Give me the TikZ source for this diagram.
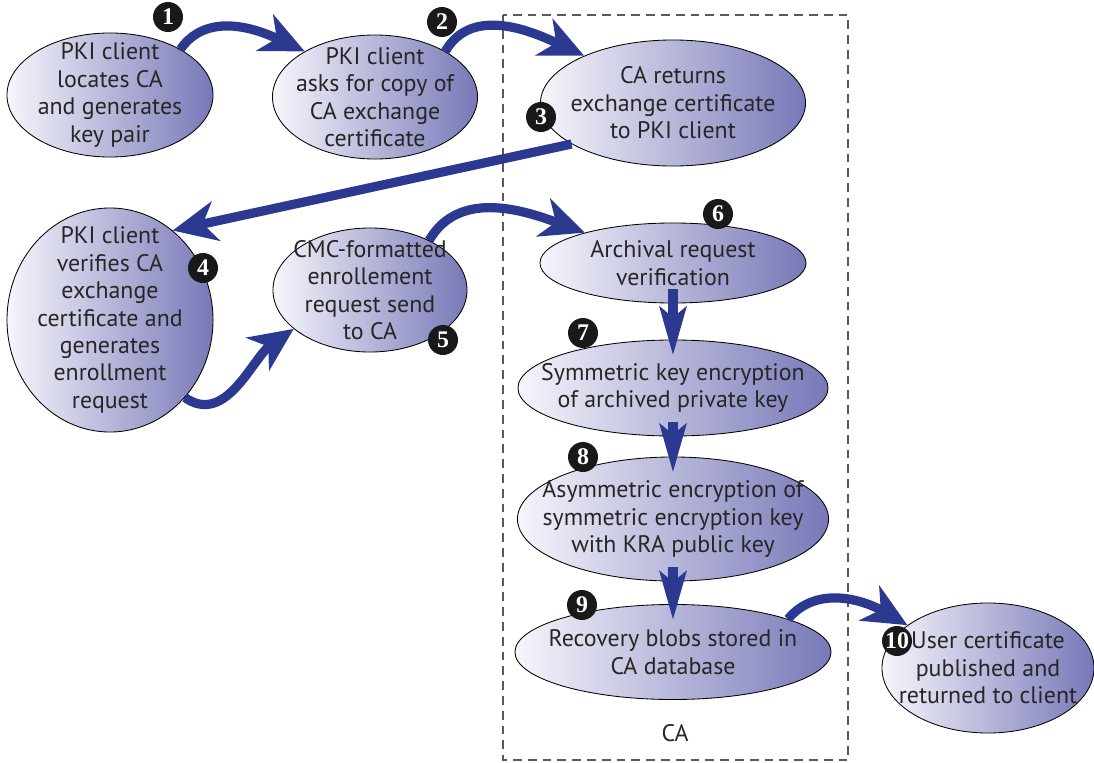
\documentclass[tikz,border=0pt]{standalone}
\usepackage{fontspec}
\setmainfont{PT Sans}
\newfontfamily\numfont{Liberation Serif}
\usetikzlibrary{shapes,arrows.meta,positioning,calc}
\definecolor{flowblue}{RGB}{43,57,144}
\definecolor{stageleft}{RGB}{246,246,252}
\definecolor{stageright}{RGB}{120,120,184}
\tikzstyle{stage} = [ellipse, draw=black, line width=0.6pt, left color=stageleft, right color=stageright, align=center, inner sep=-1cm, text=black!85, font=\fontsize{17}{19.5}\selectfont]
\tikzstyle{badge} = [circle, fill=black!90, text=white, inner sep=0pt, minimum size=0.75cm, font=\numfont\bfseries\fontsize{17}{17}\selectfont]
\tikzstyle{flow} = [flowblue, line width=0.23cm, -{Stealth[length=1.1cm, width=1cm, inset=0.33cm]}]
\tikzstyle{down} = [flowblue, line width=0.25cm, -{Stealth[length=1.2cm, width=0.65cm, inset=0.25cm]}, shorten <=-0.35cm, shorten >=-0.4cm]
\tikzstyle{cabox} = [draw=black!65, line width=0.05cm, dash pattern=on 0.22cm off 0.15cm]

\begin{document}
\begin{tikzpicture}[x=0.025cm, y=-0.025cm]
    \useasboundingbox (0,0) rectangle (1094,763);
    \draw[cabox] (503,15) rectangle (848,760);
    \node[text=black!85, font=\fontsize{17}{19.5}\selectfont] (calabel) at (675,733) {CA};

    \node[stage, minimum width=5.15cm, minimum height=3.1cm] (locate) at (110,95) {PKI client\\locates CA\\and generates\\key pair};
    \node[stage, minimum width=5.125cm, minimum height=3.1cm] (askcopy) at (375,97) {PKI client\\asks for copy of\\CA exchange\\certificate};
    \node[stage, minimum width=6.625cm, minimum height=3.15cm] (returns) at (673,103) {CA returns\\exchange certificate\\to PKI client};
    \node[stage, minimum width=5.15cm, minimum height=5.6cm] (verify) at (110,320) {PKI client\\verifies CA\\exchange\\certificate and\\generates\\enrollment\\request};
    \node[stage, minimum width=4.85cm, minimum height=3.1cm] (cmc) at (370,290) {CMC-formatted\\enrollement\\request send\\to CA};
    \node[stage, minimum width=6.65cm, minimum height=2cm] (archival) at (673,263) {Archival request\\verification};
    \node[stage, minimum width=7.75cm, minimum height=2.4cm] (symkey) at (673,388) {Symmetric key encryption\\of archived private key};
    \node[stage, minimum width=7.775cm, minimum height=3.1cm] (asymkey) at (673,519) {Asymmetric encryption of\\symmetric encryption key\\with KRA public key};
    \node[stage, minimum width=7.9cm, minimum height=2.375cm] (blobs) at (673,652) {Recovery blobs stored in\\CA database};
    \node[stage, minimum width=5.3cm, minimum height=3.25cm] (publish) at (988,668) {User certificate\\published and\\returned to client};

    \draw[flow] (locate.33) to[out=55, in=155] (askcopy.147);
    \draw[flow] (askcopy.33) to[out=60, in=155] (returns.152);
    \draw[flow] (returns.202) -- (verify.55);
    \draw[flow] (verify.314) to[out=-35, in=215] (cmc.207);
    \draw[flow] (cmc.40) to[out=60, in=160] (archival.161);
    \draw[down] (archival.south) -- (symkey.north);
    \draw[down] (symkey.south) -- (asymkey.north);
    \draw[down] (asymkey.south) -- (blobs.north);
    \draw[flow] (blobs.16) to[out=50, in=150] (publish.152);

    \node[badge] (n1) at (168,17) {1};
    \node[badge] (n2) at (442,22) {2};
    \node[badge] (n3) at (541,117) {3};
    \node[badge] (n4) at (203,268) {4};
    \node[badge] (n5) at (443,340) {5};
    \node[badge] (n6) at (718,214) {6};
    \node[badge] (n7) at (583,333) {7};
    \node[badge] (n8) at (583,457) {8};
    \node[badge] (n9) at (582,605) {9};
    \node[badge] (n10) at (897,641) {10};
\end{tikzpicture}
\end{document}
